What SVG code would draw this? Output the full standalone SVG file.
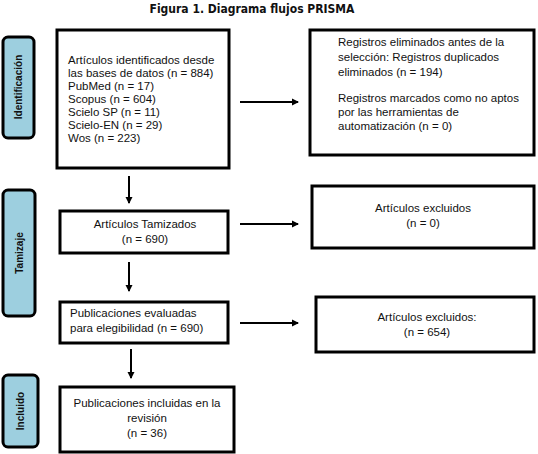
<svg xmlns="http://www.w3.org/2000/svg" width="538" height="454" viewBox="0 0 538 454">
<style>
.box{fill:#fff;stroke:#000;stroke-width:3}
.side{fill:#9dcfdf;stroke:#000;stroke-width:3}
.t{font-family:"Liberation Sans",Arial,sans-serif;font-size:11.5px;fill:#111}
.c{text-anchor:middle}
.v{font-family:"Liberation Sans",Arial,sans-serif;font-size:10px;font-weight:bold;fill:#111;text-anchor:middle}
.title{font-family:"DejaVu Sans Condensed","DejaVu Sans",sans-serif;font-stretch:condensed;font-size:12px;font-weight:bold;fill:#111;text-anchor:middle}
.ar{stroke:#000;stroke-width:2;fill:none;marker-end:url(#ah)}
</style>
<defs>
<marker id="ah" markerWidth="8" markerHeight="8" refX="6" refY="4" orient="auto" markerUnits="userSpaceOnUse">
<path d="M0,0.5 L7,4 L0,7.5 Z" fill="#000"/>
</marker>
</defs>
<text class="title" x="252" y="13">Figura 1. Diagrama flujos PRISMA</text>

<g id="side-identificacion">
<rect class="side" x="3" y="37" width="31" height="101" rx="5"/>
<text class="v" transform="translate(22,87) rotate(-90)">Identificación</text>
</g>
<g id="side-tamizaje">
<rect class="side" x="3" y="190" width="32" height="126" rx="5"/>
<text class="v" transform="translate(23,253) rotate(-90)">Tamizaje</text>
</g>
<g id="side-incluido">
<rect class="side" x="3" y="375" width="35" height="72" rx="5"/>
<text class="v" transform="translate(24,411) rotate(-90)">Incluido</text>
</g>

<g id="n-identificados">
<rect class="box" x="57" y="30" width="172" height="138"/>
<text class="t" x="68" y="64">Artículos identificados desde</text>
<text class="t" x="68" y="77">las bases de datos (n = 884)</text>
<text class="t" x="68" y="90">PubMed (n = 17)</text>
<text class="t" x="68" y="103">Scopus (n = 604)</text>
<text class="t" x="68" y="116">Scielo SP (n = 11)</text>
<text class="t" x="68" y="129">Scielo-EN (n = 29)</text>
<text class="t" x="68" y="142">Wos (n = 223)</text>
</g>

<g id="n-eliminados">
<rect class="box" x="310" y="30" width="224" height="125"/>
<text class="t" x="338" y="46">Registros eliminados antes de la</text>
<text class="t" x="338" y="61">selección: Registros duplicados</text>
<text class="t" x="338" y="76">eliminados (n = 194)</text>
<text class="t" x="338" y="102">Registros marcados como no aptos</text>
<text class="t" x="338" y="116">por las herramientas de</text>
<text class="t" x="338" y="130">automatización (n = 0)</text>
</g>

<g id="n-tamizados">
<rect class="box" x="60" y="211" width="168" height="42"/>
<text class="t c" x="145" y="228">Artículos Tamizados</text>
<text class="t c" x="145" y="243">(n = 690)</text>
</g>

<g id="n-excluidos1">
<rect class="box" x="312" y="186" width="222" height="62"/>
<text class="t c" x="423" y="212">Artículos excluidos</text>
<text class="t c" x="423" y="227">(n = 0)</text>
</g>

<g id="n-evaluadas">
<rect class="box" x="60" y="302" width="168" height="41"/>
<text class="t" x="70" y="317">Publicaciones evaluadas</text>
<text class="t" x="70" y="332">para elegibilidad (n = 690)</text>
</g>

<g id="n-excluidos2">
<rect class="box" x="316" y="297" width="218" height="55"/>
<text class="t c" x="427" y="321">Artículos excluidos:</text>
<text class="t c" x="427" y="336">(n = 654)</text>
</g>

<g id="n-incluidas">
<rect class="box" x="60" y="387" width="174" height="65"/>
<text class="t c" x="147" y="407">Publicaciones incluidas en la</text>
<text class="t c" x="147" y="422">revisión</text>
<text class="t c" x="147" y="437">(n = 36)</text>
</g>

<g id="connectors">
<line class="ar" x1="240" y1="102" x2="298" y2="102"/>
<line class="ar" x1="129" y1="176" x2="129" y2="203"/>
<line class="ar" x1="240" y1="224" x2="298" y2="224"/>
<line class="ar" x1="129" y1="262" x2="129" y2="291"/>
<line class="ar" x1="240" y1="323" x2="298" y2="323"/>
<line class="ar" x1="131" y1="349" x2="131" y2="378"/>
</g>
</svg>
